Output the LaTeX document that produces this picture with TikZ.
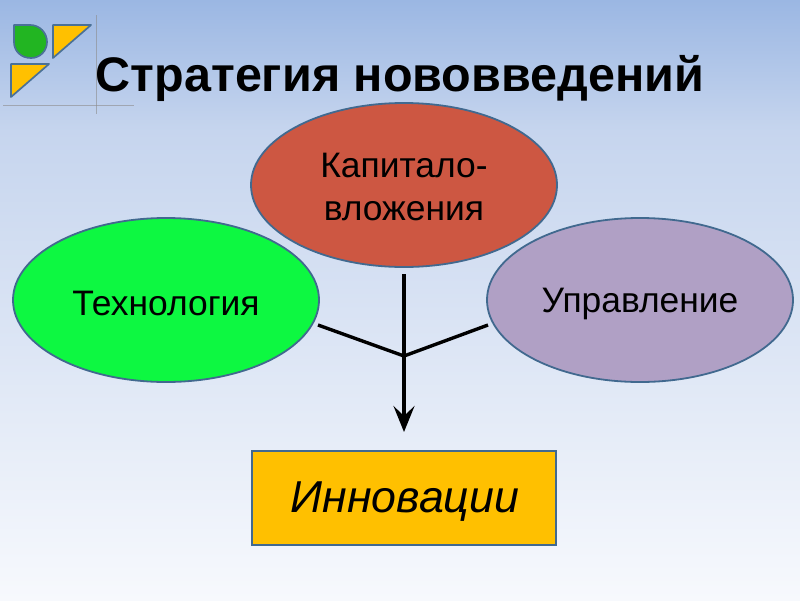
\documentclass[tikz,border=0pt]{standalone}
\usepackage{fontspec}
\setmainfont{Liberation Sans}
\usetikzlibrary{calc,positioning,shapes.geometric,arrows.meta}
\definecolor{edgeblue}{HTML}{41698F}
\definecolor{logoedge}{HTML}{4A7197}
\definecolor{logoyellow}{HTML}{FFC000}
\definecolor{logogreen}{HTML}{22B522}
\definecolor{skytop}{RGB}{155,183,227}
\definecolor{skymid}{RGB}{198,213,238}
\definecolor{skylow}{RGB}{247,249,253}
\tikzset{
  oval/.style={ellipse,draw=edgeblue,line width=1.8pt,inner sep=0pt,
    minimum width=306pt,minimum height=164pt},
  ovaltext/.style={align=center,font=\fontsize{35.4}{42.5}\selectfont},
  logopart/.style={draw=logoedge,line width=1.7pt,line join=round},
  guide/.style={draw=black!45!white,opacity=0.6,line width=1pt},
  link/.style={line width=3.4pt}
}
\begin{document}
\begin{tikzpicture}[x=1pt,y=-1pt,inner sep=0.4mm]
\useasboundingbox (0,0) rectangle (800,600);
\shade[top color=skytop,bottom color=skymid] (0,0) rectangle (800,130.5);
\shade[top color=skymid,bottom color=skylow] (0,130) rectangle (800,600);
% logo
\draw[logopart,fill=logogreen] (14,25) -- (30,25) .. controls (40,25) and (47,33) .. (47,42)
  .. controls (47,51) and (40,58) .. (31,58) .. controls (21,58) and (14,51) .. (14,42) -- cycle;
\draw[logopart,fill=logoyellow] (53,25) -- (91,25) -- (53,58) -- cycle;
\draw[logopart,fill=logoyellow] (11,64) -- (49,64) -- (11,97) -- cycle;
\draw[guide] (96,15) -- (96,114);
\draw[guide] (3,105) -- (134,105);
% title
\node (title) at (400,78) {\fontsize{48.5}{55}\selectfont\bfseries Стратегия нововведений};
% ovals
\node[oval,fill={rgb,255:red,205;green,87;blue,66}] (capital) at (404,185) {};
\node[ovaltext] (capitaltext) at (404,187) {Капитало-\\вложения};
\node[oval,fill={rgb,255:red,13;green,248;blue,65}] (tech) at (166,300) {};
\node[ovaltext] (techtext) at (166,303) {Технология};
\node[oval,fill={rgb,255:red,176;green,160;blue,197}] (manage) at (640,300) {};
\node[ovaltext] (managetext) at (640,304) {Управление};
\node[draw=edgeblue,line width=1.8pt,fill=logoyellow,minimum width=304pt,minimum height=94pt] (innov) at (404,498) {};
\node[font=\fontsize{44.7}{50}\selectfont\itshape] (innovtext) at (405,502) {Инновации};
% connectors
\coordinate (join) at (404,356);
\coordinate (arrowstart) at (404,274);
\coordinate (arrowend) at (404,432);
\draw[link,-{Stealth[length=26pt,width=21pt,inset=10pt]}] (arrowstart) -- (arrowend);
\draw[link] (318,325) -- (join) -- (488,325);
\end{tikzpicture}
\end{document}
